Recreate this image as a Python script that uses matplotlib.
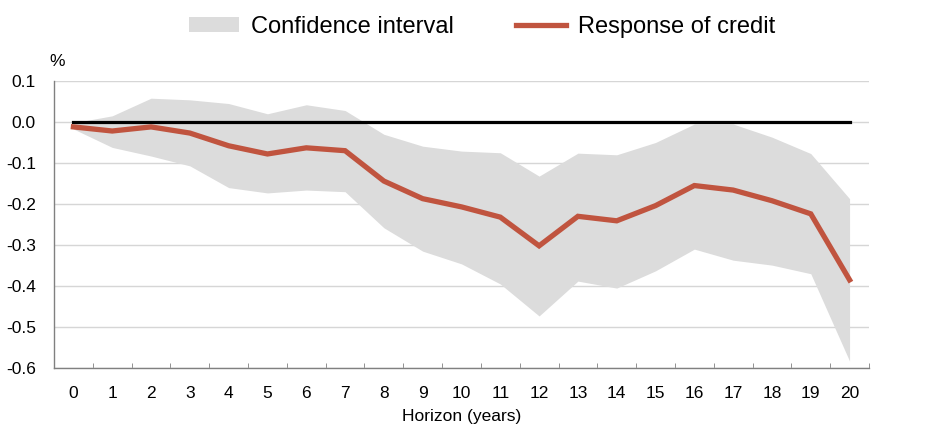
import matplotlib
matplotlib.use("Agg")
import matplotlib.pyplot as plt
import numpy as np

plt.rcParams["font.family"] = ["Liberation Sans", "DejaVu Sans"]

horizon = np.arange(0, 21)
response = [-0.012, -0.022, -0.012, -0.027, -0.058, -0.078, -0.063, -0.070,
            -0.144, -0.187, -0.207, -0.232, -0.302, -0.230, -0.241, -0.204,
            -0.155, -0.166, -0.192, -0.224, -0.385]
ci_upper = [-0.002, 0.015, 0.058, 0.054, 0.045, 0.020, 0.042, 0.028,
            -0.030, -0.059, -0.071, -0.075, -0.132, -0.076, -0.080, -0.050,
            -0.005, -0.005, -0.037, -0.077, -0.187]
ci_lower = [-0.017, -0.062, -0.083, -0.107, -0.160, -0.173, -0.166, -0.170,
            -0.258, -0.315, -0.346, -0.395, -0.473, -0.388, -0.405, -0.363,
            -0.310, -0.337, -0.349, -0.370, -0.583]
yticks = [0.1, 0.0, -0.1, -0.2, -0.3, -0.4, -0.5, -0.6]

red = "#c0543f"
grey = "#dcdcdc"

fig = plt.figure(figsize=(9.36, 4.33), dpi=100)
ax = fig.add_axes([0.0577, 0.150, 0.8707, 0.663])

ax.fill_between(horizon, ci_lower, ci_upper, color=grey, lw=0,
                label="Confidence interval", zorder=1)
ax.plot([horizon[0], horizon[-1]], [0, 0], color="black", lw=2.3, zorder=3)
ax.plot(horizon, response, color=red, lw=3.8, label="Response of credit",
        zorder=4, solid_joinstyle="miter")

ax.set_xlim(-0.5, 20.5)
ax.set_ylim(-0.6, 0.1)
ax.set_yticks(yticks)
ax.set_yticklabels([f"{v:.1f}" for v in yticks])
ax.set_xticks(horizon)
ax.set_xticklabels([str(h) for h in horizon])
ax.set_xticks(np.arange(-0.5, 21, 1), minor=True)
ax.tick_params(axis="x", which="major", length=0, pad=13, labelsize=12.5)
ax.tick_params(axis="x", which="minor", length=3.6, direction="in", color="#808080")
ax.tick_params(axis="y", length=0, labelsize=12.5, pad=13)

ax.grid(axis="y", color="#d6d6d6", lw=1, zorder=0)
ax.set_axisbelow(True)
for s in ["top", "right"]:
    ax.spines[s].set_visible(False)
for s in ["left", "bottom"]:
    ax.spines[s].set_color("#808080")
    ax.spines[s].set_linewidth(1)

ax.set_xlabel("Horizon (years)", fontsize=12.5, labelpad=6)
fig.text(0.0615, 0.859, "%", fontsize=12.5, ha="center", va="center")

fig.legend(loc="center", bbox_to_anchor=(0.515, 0.938), ncol=2,
           frameon=False, fontsize=17, handlelength=2.15, handleheight=0.55,
           columnspacing=2.6, handletextpad=0.5, borderpad=0)

fig.savefig("out.png", dpi=100)
